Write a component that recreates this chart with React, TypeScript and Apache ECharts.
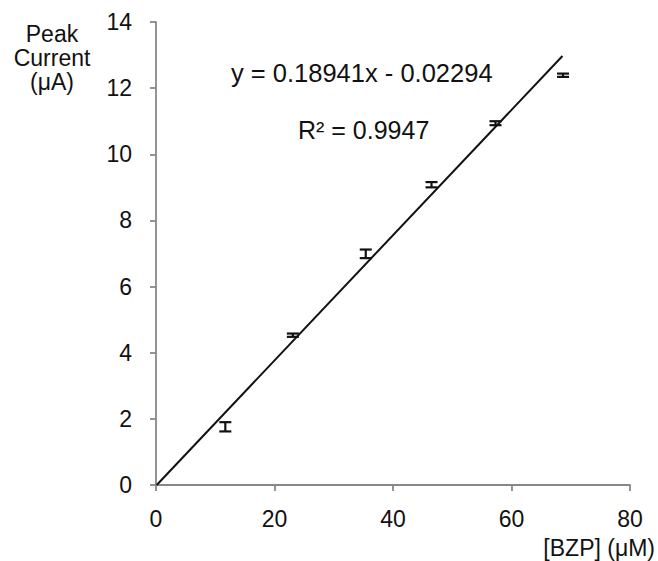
import React, { useEffect, useRef } from "react";
import * as echarts from "echarts";

const concX = [11.7, 23.1, 35.4, 46.5, 57.3, 68.7];
const currentY = [1.76, 4.53, 6.99, 9.08, 10.94, 12.39];
const errY = [0.14, 0.05, 0.13, 0.08, 0.06, 0.05];
const slope = 0.18941;
const intercept = -0.02294;
const trendX = [0.12, 68.6];
const eqText = "y = 0.18941x - 0.02294";
const r2Text = "R² = 0.9947";

export default function App() {
  const ref = useRef<HTMLDivElement>(null);
  useEffect(() => {
    const chart = echarts.init(ref.current!, null, { renderer: "svg" });
    const font = "Liberation Sans";
    const errData = concX.map((x, i) => [x, currentY[i] - errY[i], currentY[i] + errY[i]]);
    chart.setOption({
      animation: false,
      backgroundColor: "#fff",
      textStyle: { fontFamily: font },
      grid: { left: 156, right: 28, top: 22, bottom: 76 },
      xAxis: {
        type: "value",
        min: 0,
        max: 80,
        interval: 20,
        axisLine: { lineStyle: { color: "#888", width: 1.8 } },
        axisTick: { show: true, length: 6, lineStyle: { color: "#888", width: 1.8 } },
        axisLabel: { color: "#111", fontSize: 23, margin: 22, fontFamily: font },
        splitLine: { show: false },
      },
      yAxis: {
        type: "value",
        min: 0,
        max: 14,
        interval: 2,
        axisLine: { show: true, lineStyle: { color: "#888", width: 1.8 } },
        axisTick: { show: true, length: 6, lineStyle: { color: "#888", width: 1.8 } },
        axisLabel: { color: "#111", fontSize: 23, margin: 24, fontFamily: font },
        splitLine: { show: false },
      },
      series: [
        {
          type: "line",
          data: trendX.map((x) => [x, slope * x + intercept]),
          symbol: "none",
          lineStyle: { color: "#111", width: 2 },
          z: 2,
        },
        {
          type: "custom",
          data: errData,
          z: 3,
          renderItem: (params: any, api: any) => {
            const x = api.value(0);
            const lo = api.coord([x, api.value(1)]);
            const hi = api.coord([x, api.value(2)]);
            const hw = 6;
            const st = { stroke: "#111", lineWidth: 2.2 };
            return {
              type: "group",
              children: [
                { type: "line", shape: { x1: lo[0], y1: lo[1], x2: hi[0], y2: hi[1] }, style: st },
                { type: "line", shape: { x1: lo[0] - hw, y1: lo[1], x2: lo[0] + hw, y2: lo[1] }, style: st },
                { type: "line", shape: { x1: hi[0] - hw, y1: hi[1], x2: hi[0] + hw, y2: hi[1] }, style: st },
              ],
            };
          },
        },
      ],
      graphic: [
        {
          type: "text",
          x: 231,
          y: 73,
          style: { text: eqText, fill: "#111", fontSize: 25.5, fontFamily: font, verticalAlign: "middle" },
        },
        {
          type: "text",
          x: 298,
          y: 130,
          style: { text: r2Text, fill: "#111", fontSize: 25, fontFamily: font, verticalAlign: "middle" },
        },
        {
          type: "text",
          x: 52,
          y: 22,
          style: {
            text: "Peak\nCurrent\n(μA)",
            fill: "#111",
            fontSize: 23,
            fontFamily: font,
            align: "center",
            lineHeight: 24,
          },
        },
        {
          type: "text",
          x: 655,
          y: 548,
          style: {
            text: "[BZP] (μM)",
            fill: "#111",
            fontSize: 23,
            fontFamily: font,
            align: "right",
            verticalAlign: "middle",
          },
        },
      ],
    });
    return () => chart.dispose();
  }, []);
  return (
    <div
      ref={ref}
      style={{ position: "absolute", left: 0, top: 0, width: 658, height: 561 }}
    />
  );
}
